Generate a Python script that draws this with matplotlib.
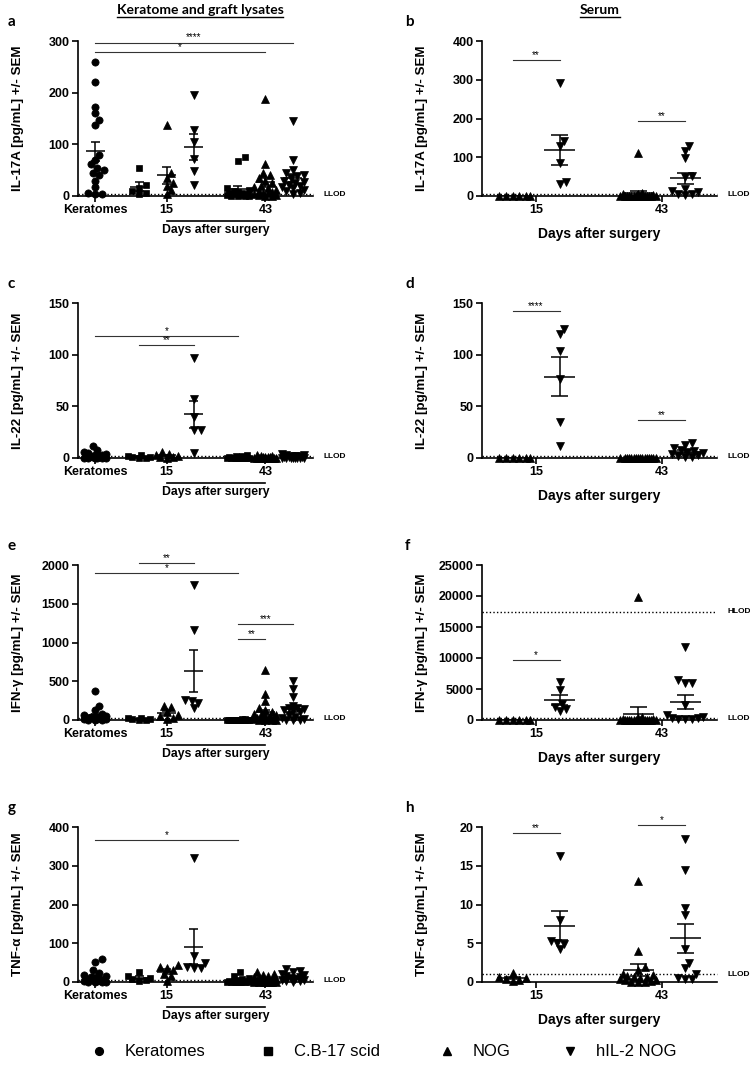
import numpy as np
import matplotlib
matplotlib.use("Agg")
import matplotlib.pyplot as plt
from matplotlib.lines import Line2D

plt.rcParams["font.family"] = ["Liberation Sans", "DejaVu Sans"]
plt.rcParams["font.weight"] = "bold"

W, H, DPI = 750, 1076, 100

# ---------------- data ----------------
lysate_groups = ["Keratomes", "C.B-17 scid", "NOG", "hIL-2 NOG", "C.B-17 scid", "NOG", "hIL-2 NOG"]
serum_groups = ["NOG", "hIL-2 NOG", "NOG", "hIL-2 NOG"]
lysate_ticklabels = ["Keratomes", "15", "43"]
serum_ticklabels = ["15", "43"]
legend_labels = ["Keratomes", "C.B-17 scid", "NOG", "hIL-2 NOG"]

# group order (lysates): keratomes, d15 C.B-17, d15 NOG, d15 hIL-2 NOG, d43 C.B-17, d43 NOG, d43 hIL-2 NOG
il17a_lysate = [
    [259, 220, 173, 160, 147, 138, 80, 70, 62, 55, 50, 45, 40, 30, 18, 5, 4, 3],
    [55, 22, 15, 10, 5, 3],
    [138, 45, 35, 25, 20, 12, 3],
    [196, 128, 105, 72, 48, 22],
    [75, 68, 15, 12, 10, 8, 6, 5, 4, 3, 2, 1, 0, 0, 0, 0],
    [188, 62, 45, 40, 35, 30, 25, 20, 18, 15, 12, 10, 8, 6, 5, 3, 2, 1, 0, 0],
    [145, 70, 50, 45, 40, 38, 35, 30, 28, 25, 22, 20, 18, 15, 12, 10, 5, 3],
]
il22_lysate = [
    [12, 8, 6, 5, 4, 3, 3, 2, 2, 1, 1, 1, 0, 0, 0, 0, 0, 0],
    [3, 2, 1, 1, 0, 0],
    [6, 4, 3, 2, 1, 1, 0],
    [97, 57, 40, 27, 27, 5],
    [3, 2, 2, 1, 1, 1, 0, 0, 0, 0, 0, 0, 0, 0, 0, 0],
    [3, 2, 2, 1, 1, 1, 1, 0, 0, 0, 0, 0, 0, 0, 0, 0, 0, 0, 0, 0],
    [4, 3, 3, 2, 2, 2, 1, 1, 1, 1, 0, 0, 0, 0, 0, 0, 0, 0],
]
ifng_lysate = [
    [370, 185, 125, 80, 60, 50, 45, 40, 35, 30, 25, 20, 15, 10, 8, 5, 3, 0],
    [25, 20, 15, 10, 5, 3],
    [180, 170, 100, 70, 50, 30, 10],
    [1740, 1160, 260, 240, 225, 160],
    [10, 8, 5, 4, 3, 2, 1, 1, 0, 0, 0, 0, 0, 0, 0, 0],
    [640, 330, 240, 160, 130, 100, 80, 70, 60, 50, 40, 30, 25, 20, 15, 10, 5, 3, 0, 0],
    [500, 400, 300, 180, 160, 150, 140, 130, 120, 100, 60, 40, 20, 10, 5, 0, 0],
]
tnfa_lysate = [
    [60, 52, 32, 22, 18, 15, 12, 10, 8, 6, 5, 4, 3, 2, 1, 0, 0, 0],
    [25, 15, 10, 8, 5, 3],
    [44, 40, 35, 30, 20, 15, 3],
    [320, 68, 48, 40, 37, 35],
    [25, 15, 10, 8, 5, 3, 2, 1, 0, 0, 0, 0, 0, 0, 0, 0],
    [25, 20, 18, 15, 12, 10, 8, 6, 5, 4, 3, 2, 1, 0, 0, 0, 0, 0, 0, 0],
    [33, 28, 25, 20, 18, 15, 12, 10, 8, 6, 5, 3, 2, 1],
]

# group order (serum): d15 NOG, d15 hIL-2 NOG, d43 NOG, d43 hIL-2 NOG
il17a_serum = [
    [0, 0, 0, 0, 0, 0],
    [291, 143, 130, 85, 35, 30],
    [111, 8, 6, 4, 2, 1] + [0] * 14,
    [130, 117, 98, 52, 48, 18, 12, 10, 6, 4, 2],
]
il22_serum = [
    [0, 0, 0, 0, 0, 0],
    [125, 120, 104, 76, 35, 12],
    [0] * 16,
    [15, 13, 10, 8, 7, 6, 5, 4, 3, 2, 1, 1],
]
ifng_serum = [
    [0, 0, 0, 0, 0, 0],
    [6200, 4900, 2600, 2100, 1800, 1400],
    [19800, 500, 300, 200, 100, 50] + [0] * 14,
    [11800, 6500, 6000, 6000, 2500, 800, 500, 400, 300, 200, 100, 100],
]
tnfa_serum = [
    [1.1, 0.6, 0.5, 0.4, 0.2, 0.1],
    [16.2, 8.0, 5.3, 5.0, 4.9, 4.2],
    [13.0, 4.0, 2.0, 1.5, 1.0, 0.9, 0.8, 0.7, 0.6, 0.5, 0.4, 0.3, 0.2, 0.1, 0, 0, 0],
    [18.4, 14.5, 9.6, 8.6, 4.2, 2.4, 1.8, 1.0, 0.5, 0.4, 0.4],
]

# significance brackets: (group i, group j, height, label)
sig_a = [(0, 6, 297, "****"), (0, 5, 278, "*")]
sig_c = [(0, 4, 117.6, "*"), (1, 3, 109, "**")]
sig_e = [(1, 3, 2025, "**"), (0, 4, 1897, "*"), (4, 6, 1238, "***"), (4, 5, 1050, "**")]
sig_g = [(0, 4, 367, "*")]
sig_b = [(0, 1, 351, "**"), (2, 3, 194, "**")]
sig_d = [(0, 1, 142.6, "****"), (2, 3, 36.8, "**")]
sig_f = [(0, 1, 9600, "*")]
sig_h = [(0, 1, 19.2, "**"), (2, 3, 20.2, "*")]

# ---------------- layout ----------------
marker_of = {"Keratomes": "o", "C.B-17 scid": "s", "NOG": "^", "hIL-2 NOG": "v"}
size_of = {"Keratomes": 5.2, "C.B-17 scid": 4.8, "NOG": 5.6, "hIL-2 NOG": 5.6}

lys_pos = [0, 1.6, 2.6, 3.6, 5.2, 6.2, 7.2]
lys_ticks = [0, 2.6, 6.2]
lys_xlim = (-0.62, 7.93)
ser_pos = [0.5, 1.5, 3.17, 4.17]
ser_ticks = [1, 3.68]
ser_xlim = (-0.15, 4.85)

AX_W, AX_H = 235, 155
LEFT_X, RIGHT_X = 78, 482
ROW_TOP = [41, 303, 565, 827]

fig = plt.figure(figsize=(W / DPI, H / DPI), dpi=DPI)


def px_axes(x, y, w, h):
    return fig.add_axes([x / W, 1 - (y + h) / H, w / W, h / H])


def swarm(vals, ppx, ppy, diam=6.0, step=2.2, wmax=12.0):
    vals = np.asarray(vals, float)
    cands = [0.0]
    k = 1
    while k * step <= wmax:
        cands += [k * step, -k * step]
        k += 1
    placed = []
    offs = np.zeros(len(vals))
    for i in np.argsort(vals, kind="stable"):
        y = vals[i] * ppy
        best, bestd = 0.0, -1.0
        for c in cands:
            d = min([np.hypot(c - px, y - py) for px, py in placed], default=1e9)
            if d >= diam:
                best = c
                break
            if d > bestd:
                best, bestd = c, d
        offs[i] = best
        placed.append((best, y))
    return offs / ppx


def panel(ax, data, groups, pos, xlim, ymax, ystep, ylabel, lod, sigs, lysate, hlod=None):
    ax.set_xlim(*xlim)
    ax.set_ylim(0, ymax)
    ppx = AX_W / (xlim[1] - xlim[0])
    ppy = AX_H / ymax
    hw = 9.5 / ppx if lysate else 15.5 / ppx
    cw = 4.5 / ppx if lysate else 8.5 / ppx
    wmax = 11 if lysate else 18
    for vals, g, x0 in zip(data, groups, pos):
        vals = np.asarray(vals, float)
        xs = x0 + swarm(vals, ppx, ppy, wmax=wmax)
        ax.plot(xs, vals, ls="none", marker=marker_of[g], ms=size_of[g],
                mfc="black", mec="black", mew=0.5, clip_on=False, zorder=3)
        m = vals.mean()
        s = vals.std(ddof=1) / np.sqrt(len(vals))
        ax.hlines(m, x0 - hw, x0 + hw, color="black", lw=1.1, zorder=4)
        if s > 0:
            ax.vlines(x0, m - s, m + s, color="black", lw=1.1, zorder=4)
            ax.hlines([m - s, m + s], x0 - cw, x0 + cw, color="black", lw=1.1, zorder=4)
    # detection limits
    ax.axhline(lod, color="black", ls=(0, (1, 1.6)), lw=1.0, zorder=2, clip_on=False)
    ax.text(1 + 10 / AX_W, lod, "LLOD", transform=ax.get_yaxis_transform(),
            fontsize=6, va="center", ha="left")
    if hlod is not None:
        ax.axhline(hlod, color="black", ls=(0, (1, 1.6)), lw=1.0, zorder=2)
        ax.text(1 + 10 / AX_W, hlod, "HLOD", transform=ax.get_yaxis_transform(),
                fontsize=6, va="center", ha="left")
    # significance
    for i, j, y, lab in sigs:
        ax.plot([pos[i], pos[j]], [y, y], color="#333333", lw=0.8, clip_on=False)
        ax.text((pos[i] + pos[j]) / 2, y, lab, ha="center", va="bottom",
                fontsize=7, fontweight="normal")
    ax.set_yticks(np.arange(0, ymax + ystep / 2, ystep))
    ax.set_ylabel(ylabel, fontsize=9.6, fontweight="bold")
    ax.yaxis.set_label_coords(-54 / AX_W, 0.5)
    for sp in ("top", "right"):
        ax.spines[sp].set_visible(False)
    for sp in ("left", "bottom"):
        ax.spines[sp].set_linewidth(1.2)
    ax.tick_params(direction="out", length=4, width=1.2, labelsize=9, pad=2)
    ax.set_facecolor("none")
    if lysate:
        ax.set_xticks(lys_ticks)
        ax.set_xticklabels(lysate_ticklabels)
        ax.plot([lys_ticks[1], lys_ticks[2]], [-25 / AX_H] * 2, color="black", lw=1.2,
                transform=ax.get_xaxis_transform(), clip_on=False)
        ax.text((lys_ticks[1] + lys_ticks[2]) / 2, -28 / AX_H, "Days after surgery",
                transform=ax.get_xaxis_transform(), ha="center", va="top", fontsize=8.8)
    else:
        ax.set_xticks(ser_ticks)
        ax.set_xticklabels(serum_ticklabels)
        ax.text(0.5, -31 / AX_H, "Days after surgery", transform=ax.transAxes,
                ha="center", va="top", fontsize=10)


specs = [
    ("a", "b", il17a_lysate, il17a_serum, 300, 100, 400, 100, "IL-17A [pg/mL] +/- SEM",
     3, 4, sig_a, sig_b, None),
    ("c", "d", il22_lysate, il22_serum, 150, 50, 150, 50, "IL-22 [pg/mL] +/- SEM",
     1.5, 1.5, sig_c, sig_d, None),
    ("e", "f", ifng_lysate, ifng_serum, 2000, 500, 25000, 5000, "IFN-γ [pg/mL] +/- SEM",
     20, 250, sig_e, sig_f, 17500),
    ("g", "h", tnfa_lysate, tnfa_serum, 400, 100, 20, 5, "TNF-α [pg/mL] +/- SEM",
     4, 1.0, sig_g, sig_h, None),
]

for row, (la, lb, dl, ds, yl, sl, ys, ss, ylab, lodl, lods, sgl, sgs, hl) in enumerate(specs):
    top = ROW_TOP[row]
    axl = px_axes(LEFT_X, top, AX_W, AX_H)
    panel(axl, dl, lysate_groups, lys_pos, lys_xlim, yl, sl, ylab, lodl, sgl, True)
    axr = px_axes(RIGHT_X, top, AX_W, AX_H)
    panel(axr, ds, serum_groups, ser_pos, ser_xlim, ys, ss, ylab, lods, sgs, False, hlod=hl)
    fig.text(8 / W, 1 - (top - 19) / H, la, fontsize=11, family=["Lato", "DejaVu Sans"],
             fontweight="bold", va="center")
    fig.text(405 / W, 1 - (top - 19) / H, lb, fontsize=11, family=["Lato", "DejaVu Sans"],
             fontweight="bold", va="center")

# column headers (underlined)
fig.canvas.draw()
renderer = fig.canvas.get_renderer()
for label, xc in [("Keratome and graft lysates", 200), ("Serum", 600)]:
    t = fig.text(xc / W, 1 - 10 / H, label, fontsize=10, family=["Lato", "DejaVu Sans"],
                 fontweight="bold", ha="center", va="center")
    bb = t.get_window_extent(renderer)
    fig.add_artist(Line2D([bb.x0 / W, bb.x1 / W], [(bb.y0 - 1) / H] * 2,
                          color="black", lw=1.0, transform=fig.transFigure))

# legend, placed item by item
legend_marker_x = [99, 268, 447, 570]
legend_y = 1 - 1051 / H
for g, xm in zip(legend_labels, legend_marker_x):
    fig.add_artist(Line2D([xm / W], [legend_y], ls="none", marker=marker_of[g],
                          ms=size_of[g] + 0.4, mfc="black", mec="black",
                          transform=fig.transFigure))
    fig.text((xm + 26) / W, legend_y, g, fontsize=12, fontweight="normal",
             va="center", ha="left")

fig.savefig("out.png", dpi=DPI)
